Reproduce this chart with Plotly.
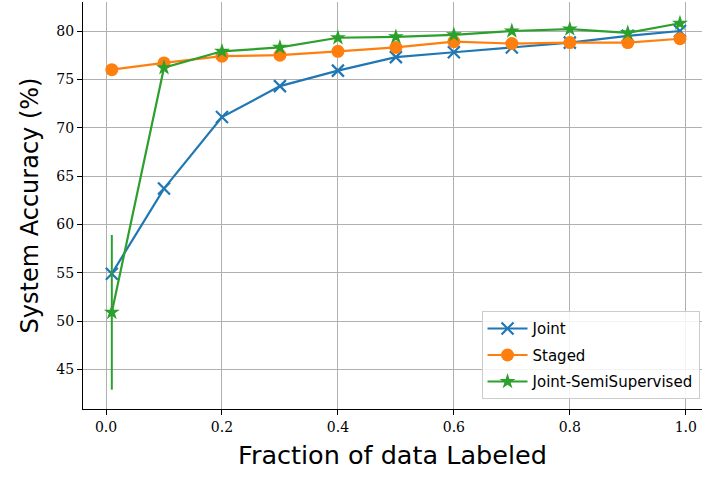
import plotly.graph_objects as go

fractions = [0.01, 0.1, 0.2, 0.3, 0.4, 0.5, 0.6, 0.7, 0.8, 0.9, 0.99]
joint = [54.9, 63.7, 71.1, 74.3, 75.9, 77.3, 77.8, 78.3, 78.8, 79.5, 80.0]
staged = [76.0, 76.7, 77.4, 77.5, 77.9, 78.3, 78.9, 78.7, 78.8, 78.8, 79.2]
semi = [50.9, 76.2, 77.9, 78.3, 79.3, 79.4, 79.6, 80.0, 80.2, 79.8, 80.8]
semi_err = [8.0, 0.2, 0.2, 0.2, 0.2, 0.2, 0.2, 0.2, 0.2, 0.2, 0.2]

x_ticks = [0.0, 0.2, 0.4, 0.6, 0.8, 1.0]
y_ticks = [45, 50, 55, 60, 65, 70, 75, 80]

C_BLUE, C_ORANGE, C_GREEN = "#1f77b4", "#ff7f0e", "#2ca02c"

fig = go.Figure()
fig.add_trace(go.Scatter(
    x=fractions, y=joint, name="Joint", mode="lines+markers", legendgroup="a",
    line=dict(color=C_BLUE, width=2.2),
    marker=dict(symbol="x-thin-open", size=12, line=dict(color=C_BLUE, width=2.2)),
))
fig.add_trace(go.Scatter(
    x=fractions, y=staged, name="Staged", mode="lines+markers", legendgroup="b",
    line=dict(color=C_ORANGE, width=2.2),
    marker=dict(symbol="circle", size=13, color=C_ORANGE),
))
fig.add_trace(go.Scatter(
    x=fractions, y=semi, name="Joint-SemiSupervised", mode="lines+markers", legendgroup="c",
    line=dict(color=C_GREEN, width=2.2),
    marker=dict(symbol="star", size=12, color=C_GREEN),
    error_y=dict(type="data", array=semi_err, visible=True, color=C_GREEN, thickness=2, width=0),
))

fig.update_layout(
    width=702, height=478,
    margin=dict(l=83, r=0, t=2, b=69),
    paper_bgcolor="white", plot_bgcolor="white",
    font=dict(family="DejaVu Sans", color="black"),
    showlegend=True,
    legend=dict(
        x=0.996, xanchor="right", y=0.024, yanchor="bottom",
        bgcolor="rgba(255,255,255,0.85)", bordercolor="#cccccc", borderwidth=1,
        font=dict(family="DejaVu Sans", size=15, color="black"),
        traceorder="grouped", tracegroupgap=4,
        itemwidth=40,
    ),
)
fig.update_xaxes(
    range=[-0.0397, 1.028], tickvals=x_ticks, tickformat=".1f",
    showgrid=True, gridcolor="#b0b0b0", gridwidth=1,
    showline=True, linecolor="black", linewidth=1.3, mirror=False,
    ticks="outside", ticklen=5, tickwidth=1, tickcolor="black",
    tickfont=dict(family="DejaVu Serif", size=14, color="black"),
    title=dict(text="Fraction of data Labeled", font=dict(family="DejaVu Sans", size=25.5), standoff=12),
    zeroline=False,
)
fig.update_yaxes(
    range=[40.9, 83.0], tickvals=y_ticks,
    showgrid=True, gridcolor="#b0b0b0", gridwidth=1,
    showline=True, linecolor="black", linewidth=1.3, mirror=False,
    ticks="outside", ticklen=5, tickwidth=1, tickcolor="black",
    tickfont=dict(family="DejaVu Serif", size=14, color="black"),
    title=dict(text="System Accuracy (%)", font=dict(family="DejaVu Sans", size=24), standoff=10),
    zeroline=False,
)

fig.write_html("out.html")
